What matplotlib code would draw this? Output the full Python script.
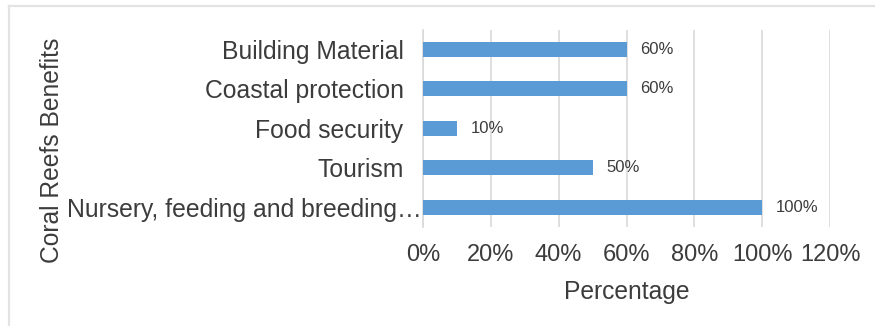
import matplotlib
matplotlib.use("Agg")
import matplotlib.pyplot as plt
import matplotlib.transforms as mtransforms
from matplotlib.lines import Line2D
from matplotlib.ticker import FuncFormatter

# Benefits listed bottom-to-top, as drawn on the category axis
categories = [
    "Nursery, feeding and breeding\u2026",
    "Tourism",
    "Food security",
    "Coastal protection",
    "Building Material",
]
values = [1.00, 0.50, 0.10, 0.60, 0.60]
value_labels = ["100%", "50%", "10%", "60%", "60%"]
x_ticks = [0.0, 0.2, 0.4, 0.6, 0.8, 1.0, 1.2]

TEXT = "#3C3C3C"
BAR = "#5B9BD5"
GRID = "#D9D9D9"

plt.rcParams["font.family"] = ["Liberation Sans", "DejaVu Sans"]

W, H = 875, 326
fig = plt.figure(figsize=(W / 100, H / 100), dpi=100)
fig.patch.set_facecolor("white")

ax = fig.add_axes([423 / W, 1 - 227 / H, (830 - 423) / W, (227 - 29.5) / H])

ypos = list(range(len(categories)))
ax.barh(ypos, values, height=0.38, color=BAR, zorder=3)

for y, v, lab in zip(ypos, values, value_labels):
    ax.annotate(lab, xy=(v, y), xytext=(10, 0), textcoords="offset points",
                ha="left", va="center", fontsize=12, color=TEXT)

ax.set_xlim(0, 1.2)
ax.set_ylim(-0.5, len(categories) - 0.5)
ax.set_xticks(x_ticks)
ax.xaxis.set_major_formatter(FuncFormatter(lambda v, p: f"{v * 100:.0f}%"))
ax.set_yticks(ypos)
ax.set_yticklabels(categories)

ax.tick_params(axis="x", length=0, pad=12, labelsize=17, colors=TEXT)
ax.tick_params(axis="y", length=0, pad=14, labelsize=17.8, colors=TEXT)

ax.grid(axis="x", color=GRID, linewidth=1.2, zorder=0)
ax.grid(axis="y", visible=False)
for side in ("top", "right", "bottom"):
    ax.spines[side].set_visible(False)
ax.spines["left"].set_color(GRID)
ax.spines["left"].set_linewidth(1.2)

ax.set_xlabel("Percentage", fontsize=17.7, color=TEXT, labelpad=10)
fig.text(52 / W, 1 - 150 / H, "Coral Reefs Benefits", rotation=90,
         ha="center", va="center", fontsize=17.7, color=TEXT)

# The truncated first category carries its ellipsis past the label column
fig.canvas.draw()
long_label = ax.get_yticklabels()[0]
shift = mtransforms.ScaledTranslation(18 / 100, 0, fig.dpi_scale_trans)
long_label.set_transform(long_label.get_transform() + shift)

# Chart frame (top and left edges inside the image)
fig.add_artist(Line2D([9 / W, 9 / W], [1 - 6 / H, 0], transform=fig.transFigure,
                      color="#E3E3E3", linewidth=1.6))
fig.add_artist(Line2D([9 / W, 1], [1 - 6 / H, 1 - 6 / H], transform=fig.transFigure,
                      color="#E3E3E3", linewidth=1.6))

fig.savefig("out.png", dpi=100)
